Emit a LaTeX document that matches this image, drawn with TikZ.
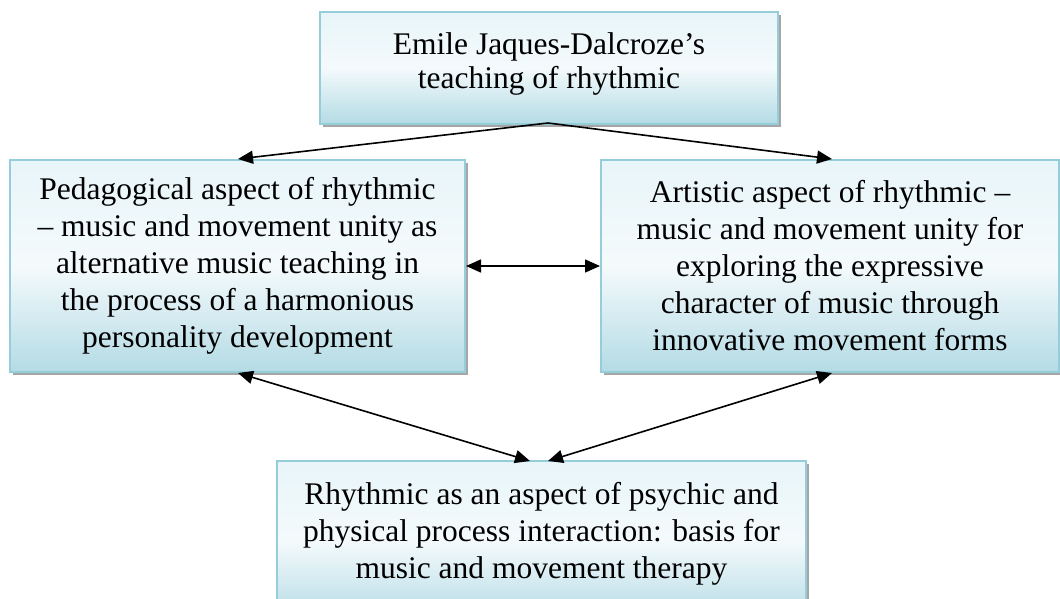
\documentclass[tikz,border=0pt]{standalone}
\usepackage{fontspec}
\setmainfont{Liberation Serif}
\usetikzlibrary{arrows.meta,shadows}
\definecolor{boxline}{RGB}{150,205,218}
\definecolor{boxtop}{RGB}{232,245,249}
\definecolor{boxmid}{RGB}{244,250,252}
\definecolor{boxbot}{RGB}{180,219,229}
\begin{document}
\begin{tikzpicture}[x=1pt,y=1pt,
  card/.style={rectangle, draw=boxline, line width=2pt, inner sep=0pt,
    top color=boxtop, bottom color=boxbot, middle color=boxmid,
    align=center, font=\fontsize{31.5}{37}\selectfont,
    drop shadow={shadow xshift=3pt, shadow yshift=-3pt, fill=gray!70, opacity=1}},
  conn/.style={line width=1.6pt, black},
  tip/.tip={Triangle[length=15pt,width=13pt]}]
\useasboundingbox (0,0) rectangle (1060,-599);
\begin{scope}
\clip (0,0) rectangle (1060,-599);
\node[card, minimum width=458pt, minimum height=112pt,
  font=\fontsize{31.5}{34}\selectfont] (top) at (549,-68)
  {Emile Jaques-Dalcroze’s\\teaching of rhythmic\\[-20pt]};
\node[card, minimum width=455pt, minimum height=212pt] (left) at (237.5,-266)
  {Pedagogical aspect of rhythmic\\– music and movement unity as\\alternative music teaching in\\the process of a harmonious\\personality development};
\node[card, minimum width=458pt, minimum height=212pt] (right) at (830,-266)
  {Artistic aspect of rhythmic –\\music and movement unity for\\exploring the expressive\\character of music through\\innovative movement forms};
\node[card, minimum width=529pt, minimum height=160pt] (bottom) at (541.5,-541)
  {Rhythmic as an aspect of psychic and\\physical process interaction: basis for\\music and movement therapy\\[-15pt]};
\end{scope}
\coordinate (ts) at (548,-123);
\coordinate (lt) at (238,-159);
\coordinate (rt) at (832,-159);
\draw[conn,-tip] (ts) -- (lt);
\draw[conn,-tip] (ts) -- (rt);
\draw[conn,tip-tip] (left.east) -- (right.west);
\coordinate (lb) at (238,-373);
\coordinate (rb) at (832,-373);
\coordinate (b1) at (530,-461);
\coordinate (b2) at (548,-461);
\draw[conn,tip-tip] (lb) -- (b1);
\draw[conn,tip-tip] (rb) -- (b2);
\end{tikzpicture}
\end{document}
